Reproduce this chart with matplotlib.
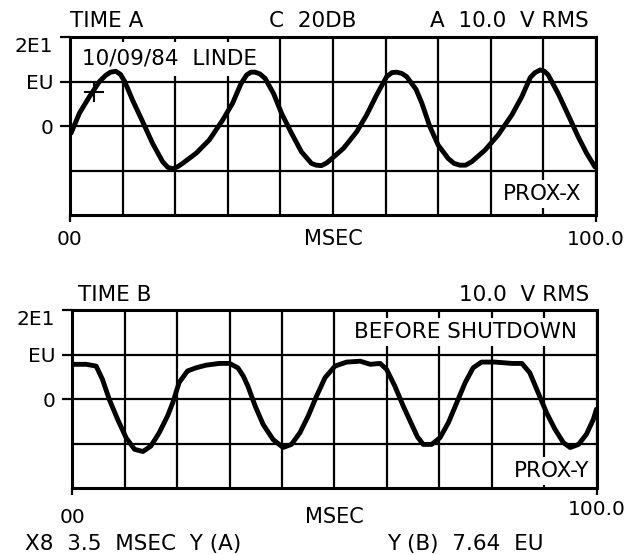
import numpy as np
import matplotlib
matplotlib.use("Agg")
import matplotlib.pyplot as plt
from matplotlib.transforms import blended_transform_factory

plt.rcParams['font.family'] = 'DejaVu Sans'

# trace A (PROX-X): time in msec, amplitude in EU
time_a = [0.2, 1.8, 3.7, 5.6, 6.8, 7.7, 8.7, 9.6, 10.4, 11.9, 13.8, 15.7, 17.6, 18.6,
          19.5, 20.4, 21.4, 24.0, 26.5, 29.0, 30.9, 32.5, 33.6, 34.4, 35.2, 36.1,
          37.1, 38.7, 40.2, 42.1, 44.0, 45.9, 46.8, 47.8, 48.8, 49.8, 52.0, 54.5,
          56.4, 58.3, 60.2, 61.2, 62.1, 63.1, 64.0, 65.8, 66.9, 68.4, 70.0, 71.9,
          73.0, 74.1, 75.2, 76.4, 78.9, 81.4, 84.0, 85.9, 87.5, 88.4, 89.4, 90.2,
          90.9, 92.8, 94.7, 96.6, 98.2, 99.8]
prox_x = [-1.6, 2.9, 6.6, 10.0, 11.4, 12.1, 12.3, 11.6, 10.0, 5.8, 1.0, -3.9, -8.0, -9.3,
          -9.6, -9.2, -8.4, -6.1, -3.1, 1.3, 5.1, 9.5, 11.5, 12.1, 12.1, 11.7,
          10.7, 7.3, 2.9, -1.6, -5.8, -8.4, -8.8, -8.9, -8.3, -7.3, -5.0, -1.3,
          2.5, 7.0, 11.1, 12.0, 12.1, 11.8, 11.1, 8.2, 5.1, -0.1, -4.3, -7.3,
          -8.4, -8.8, -8.8, -8.0, -5.4, -2.0, 2.5, 6.6, 10.9, 12.0, 12.6, 12.3,
          11.5, 7.3, 2.5, -2.4, -6.1, -9.2]

# trace B (PROX-Y), before shutdown
time_b = [0.1, 2.7, 4.6, 5.8, 7.1, 8.7, 10.3, 11.9, 13.5, 15.0, 16.6, 18.2, 19.2,
          20.4, 22.0, 23.6, 25.5, 28.1, 30.0, 31.6, 32.6, 33.5, 34.9, 36.4, 38.3,
          40.2, 41.8, 43.4, 45.0, 46.6, 48.2, 50.1, 52.3, 54.9, 56.8, 58.7, 59.9,
          61.5, 63.1, 64.7, 65.8, 66.9, 68.5, 70.1, 71.7, 73.3, 74.9, 76.4, 78.0,
          80.6, 83.8, 85.7, 87.2, 88.8, 90.4, 92.0, 93.6, 94.9, 96.5, 98.0, 99.3,
          99.9]
prox_y = [7.8, 7.8, 7.4, 4.4, -0.1, -4.6, -8.7, -11.3, -11.8, -10.6, -7.6, -3.8, -0.8,
          3.7, 6.3, 7.0, 7.6, 8.0, 8.0, 7.0, 5.2, 2.9, -1.6, -5.7, -9.1,
          -10.9, -10.2, -7.6, -3.8, 0.7, 4.8, 7.4, 8.3, 8.5, 7.8, 8.0, 6.7,
          2.9, -1.6, -5.7, -8.5, -10.2, -10.2, -8.7, -5.3, -0.8, 3.7, 7.0, 8.3,
          8.3, 8.0, 8.0, 5.9, 1.4, -3.1, -6.8, -9.8, -10.9, -10.2, -7.9, -4.6,
          -2.3]

# cursor "+" on trace A
cursor_t = [4.6]
cursor_v = [7.7]

y_ticks = [0, 10, 20]
y_labels = ['0', 'EU', '2E1']
x_ends = [0, 100]
x_end_labels = ['00', '100.0']

FS = 15.5


def scope_panel(ax, t, v):
    ax.set_xlim(0, 100)
    ax.set_ylim(-20, 20)
    ax.set_xticks(x_ends)
    ax.set_xticklabels([])
    ax.set_xticks(np.arange(10, 100, 10), minor=True)
    ax.set_yticks(y_ticks)
    ax.set_yticklabels(y_labels)
    ax.set_yticks([-10], minor=True)
    ax.tick_params(which='major', direction='out', width=1.6, labelsize=14.5, pad=5)
    ax.tick_params(axis='y', which='major', length=7.2)
    ax.tick_params(axis='x', which='major', length=5)
    ax.tick_params(which='minor', length=0)
    ax.grid(which='both', color='black', linewidth=1.6)
    ax.set_axisbelow(True)
    for s in ax.spines.values():
        s.set_linewidth(2.2)
    ax.plot(t, v, color='black', linewidth=3.5, solid_capstyle='round',
            solid_joinstyle='round', zorder=3)
    ax.get_yticklabels()[2].set_va('top')


def x_end_text(ax, y, y_right=None):
    tr = blended_transform_factory(ax.transData, ax.transAxes)
    ax.text(x_ends[0], y, x_end_labels[0], transform=tr, ha='center', va='baseline',
            fontsize=14.5, clip_on=False)
    ax.text(50, y, 'MSEC', transform=tr, ha='center', va='baseline',
            fontsize=15, clip_on=False)
    ax.text(x_ends[1], y if y_right is None else y_right, x_end_labels[1],
            transform=tr, ha='center', va='baseline', fontsize=14.5, clip_on=False)


fig = plt.figure(figsize=(6.34, 5.55), dpi=100)

box = dict(facecolor='white', edgecolor='none', pad=3)

# ---- top: TIME A ----
ax1 = fig.add_axes([0.1104, 0.6126, 0.8297, 0.3207])
scope_panel(ax1, time_a, prox_x)
ax1.plot(cursor_t, cursor_v, marker='+', markersize=15, mew=1.5, color='black',
         linestyle='none', zorder=4)
ax1.text(0.0, 1.054, 'TIME A', transform=ax1.transAxes, fontsize=FS, va='baseline')
ax1.text(0.462, 1.054, 'C  20DB', transform=ax1.transAxes, fontsize=FS,
         va='baseline', ha='center')
ax1.text(0.987, 1.054, 'A  10.0  V RMS', transform=ax1.transAxes, fontsize=FS,
         va='baseline', ha='right')
ax1.text(0.023, 0.843, '10/09/84  LINDE', transform=ax1.transAxes, fontsize=FS,
         va='baseline', bbox=dict(facecolor='white', edgecolor='none', pad=5), zorder=2)
ax1.text(0.973, 0.084, 'PROX-X', transform=ax1.transAxes, fontsize=FS,
         va='baseline', ha='right', bbox=box, zorder=2)
x_end_text(ax1, -0.169)

# ---- bottom: TIME B ----
ax2 = fig.add_axes([0.1136, 0.1207, 0.828, 0.3207])
scope_panel(ax2, time_b, prox_y)
ax2.text(0.011, 1.05, 'TIME B', transform=ax2.transAxes, fontsize=FS, va='baseline')
ax2.text(0.985, 1.05, '10.0  V RMS', transform=ax2.transAxes, fontsize=FS,
         va='baseline', ha='right')
ax2.text(0.962, 0.843, 'BEFORE SHUTDOWN', transform=ax2.transAxes, fontsize=FS,
         va='baseline', ha='right', bbox=box, zorder=2)
ax2.text(0.985, 0.062, 'PROX-Y', transform=ax2.transAxes, fontsize=FS,
         va='baseline', ha='right', bbox=box, zorder=2)
x_end_text(ax2, -0.197, y_right=-0.152)

fig.text(25 / 634, 1 - 550 / 555, 'X8  3.5  MSEC  Y (A)', fontsize=FS, va='baseline')
fig.text(387 / 634, 1 - 550 / 555, 'Y (B)  7.64  EU', fontsize=FS, va='baseline')

fig.savefig('out.png', dpi=100)
